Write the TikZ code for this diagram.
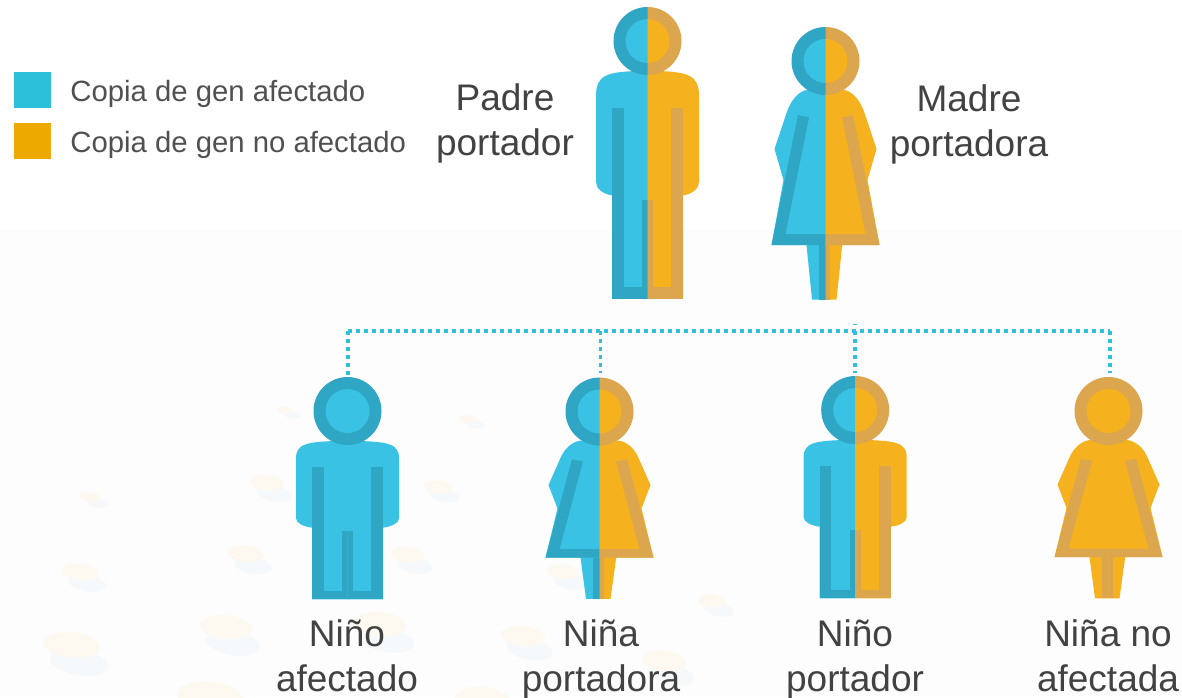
\documentclass[tikz,border=0pt]{standalone}
\usepackage{fontspec}
\setmainfont{Liberation Sans}
\usepackage{tikz}
\usetikzlibrary{positioning}
\definecolor{azul}{HTML}{39C2E4}
\definecolor{azulosc}{HTML}{2FA6C3}
\definecolor{oro}{HTML}{F5B21E}
\definecolor{oroosc}{HTML}{DBA64E}
\definecolor{clavea}{HTML}{2DC0DA}
\definecolor{claveb}{HTML}{EDA900}
\definecolor{fondo}{HTML}{FDFDFD}
\definecolor{manchaa}{HTML}{FDF9F0}
\definecolor{manchab}{HTML}{F5F9FB}
\definecolor{lazocol}{HTML}{2FC0DC}
\definecolor{texto}{HTML}{424242}
\definecolor{textob}{HTML}{505050}
\tikzset{
	swatch/.style = {minimum width = 37pt, minimum height = 36pt, inner sep = 0pt},
	clave/.style = {text = textob, inner sep = 0pt, font = \fontsize{29.3}{34}\selectfont},
	rotulo/.style = {text = texto, inner sep = 0pt, align = center, font = \fontsize{37}{45}\selectfont},
	lazo/.style = {draw = lazocol, line width = 3.7pt, dash pattern = on 3.7pt off 4.3pt}
}
% one half of a disc, #1 = 1 left, -1 right
\newcommand{\mediocirculo}[3]{
	\begin{scope}[xscale = #1]
	\clip (-40,-40) rectangle ({(#1+1)/2},40);
	\fill [#2] (0,0) circle (#3);
	\end{scope}
}
\newcommand{\mediohombre}[2]{
	\begin{scope}[xscale = #1]
	\fill [#2] ({(#1+1)/2},29.7) -- (0,29.7) .. controls (-20,30) and (-35,31) .. (-42,35)
		.. controls (-49,38) and (-51.5,46) .. (-51.5,53) -- (-51.5,141)
		.. controls (-51.5,148) and (-44,153) .. (-35.5,154.5) -- (-35.5,257.6)
		-- ({(#1+1)/2},257.6) -- cycle;
	\fill [#2osc] (-35.5,67) rectangle (-23.8,257.6);
	\fill [#2osc] (-35.5,246) rectangle ({(#1+1)/2},257.6);
	\fill [#2osc] (-5.5,159) rectangle ({(#1+1)/2},257.6);
	\end{scope}
}
% #3 leg top, #4 leg bottom, #5 width of the middle strip
\newcommand{\mediamujer}[5]{
	\begin{scope}[xscale = #1]
	\fill [#2] ({(#1+1)/2},29) -- (-19,29) .. controls (-28,31) and (-35,40) .. (-39,52)
		-- (-51,88) -- (-42,119) -- (-54,184) -- (-#3,184) -- (-#4,238.7)
		-- ({(#1+1)/2},238.7) -- cycle;
	\fill [#2osc] (-27.5,54) -- (-16.5,56.5) -- (-40,173) -- ({(#1+1)/2},173) -- ({(#1+1)/2},184)
		-- (-54,184) -- cycle;
	\fill [#2osc] (-#5,184) rectangle ({(#1+1)/2},238.7);
	\end{scope}
}
\newcommand{\cabeza}[2]{
	\mediocirculo{1}{#1osc}{34}
	\mediocirculo{-1}{#2osc}{34}
	\mediocirculo{1}{#1}{22}
	\mediocirculo{-1}{#2}{22}
}
% #1 x, #2 y of the head, #3 body scale, #4 left colour, #5 right colour
\newcommand{\hombre}[5]{
	\begin{scope}[shift = {(#1,#2)}]
	\begin{scope}[shift = {(0,30)}, yscale = #3, shift = {(0,-30)}]
	\mediohombre{1}{#4}
	\mediohombre{-1}{#5}
	\end{scope}
	\cabeza{#4}{#5}
	\end{scope}
}
\newcommand{\mujer}[5]{
	\begin{scope}[shift = {(#1,#2)}]
	\begin{scope}[shift = {(0,29)}, yscale = #3, shift = {(0,-29)}]
	\mediamujer{1}{#4}{19}{13.5}{7}
	\mediamujer{-1}{#5}{16.7}{11}{4.5}
	\end{scope}
	\cabeza{#4}{#5}
	\end{scope}
}
\begin{document}
\begin{tikzpicture}[x = 1pt, y = -1pt]
\useasboundingbox (0,0) rectangle (1182,697);
\fill [white] (0,0) rectangle (1182,697);
\fill [fondo] (0,230) rectangle (1182,697);

% spots in the background
\begin{scope}
\clip (0,0) rectangle (1182,697);
\foreach \mx/\my/\mr in {90/497/10, 80/572/18, 72/645/28, 246/554/18, 226/627/26,
	267/483/17, 285/410/8, 210/697/33, 408/555/17, 438/487/14, 468/419/9,
	563/572/16, 380/624/26, 523/636/22, 664/661/22, 712/601/14, 483/700/28} {
	\fill [manchab, rotate around = {-10:(\mx+7,\my+0.62*\mr)}] (\mx+7,\my+0.62*\mr)
		ellipse ({1.05*\mr} and {0.46*\mr});
	\fill [manchaa, rotate around = {-6:(\mx,\my)}] (\mx,\my) ellipse ({\mr} and {0.46*\mr});
}
\end{scope}

% key
\node [swatch, fill = clavea] (claveA) at (32.5,90) {};
\node [swatch, fill = claveb] (claveB) at (32.5,141) {};
\node [clave, right = 19pt of claveA, yshift = -4pt] (textoA) {Copia de gen afectado};
\node [clave, right = 19pt of claveB, yshift = -4pt] (textoB) {Copia de gen no afectado};

% parents
\hombre{647.5}{41}{1}{azul}{oro}
\mujer{825.5}{61}{1}{azul}{oro}
\node [rotulo] (padre) at (505,123) {Padre\\portador};
\node [rotulo] (madre) at (969,124) {Madre\\portadora};

% children
\hombre{347.5}{411}{0.696}{azul}{azul}
\mujer{599.5}{411.5}{0.755}{azul}{oro}
\hombre{855.2}{410}{0.696}{azul}{oro}
\mujer{1108.5}{411}{0.755}{oro}{oro}
\node [rotulo] (ninoA) at (347,656) {Niño\\afectado};
\node [rotulo] (ninaA) at (601,659) {Niña\\portadora};
\node [rotulo] (ninoB) at (855,659) {Niño\\portador};
\node [rotulo] (ninaB) at (1108,656) {Niña no\\afectada};

% dotted lines
\coordinate (bus) at (600,331);
\coordinate (cimaA) at (348,376);
\coordinate (cimaB) at (600.5,373);
\coordinate (cimaC) at (855,373);
\coordinate (cimaD) at (1110,373);
\coordinate (marca) at (855,323.7);
\draw [lazo] (cimaA |- bus) -- (cimaD |- bus);
\draw [lazo] (cimaA |- bus) -- (cimaA);
\draw [lazo] (cimaB |- bus) -- (cimaB);
\draw [lazo] (cimaC |- bus) -- (cimaC);
\draw [lazo] (cimaD |- bus) -- (cimaD);
\draw [draw = lazocol, line width = 3.7pt] (marca) -- ++(0,1.4);
\end{tikzpicture}
\end{document}
